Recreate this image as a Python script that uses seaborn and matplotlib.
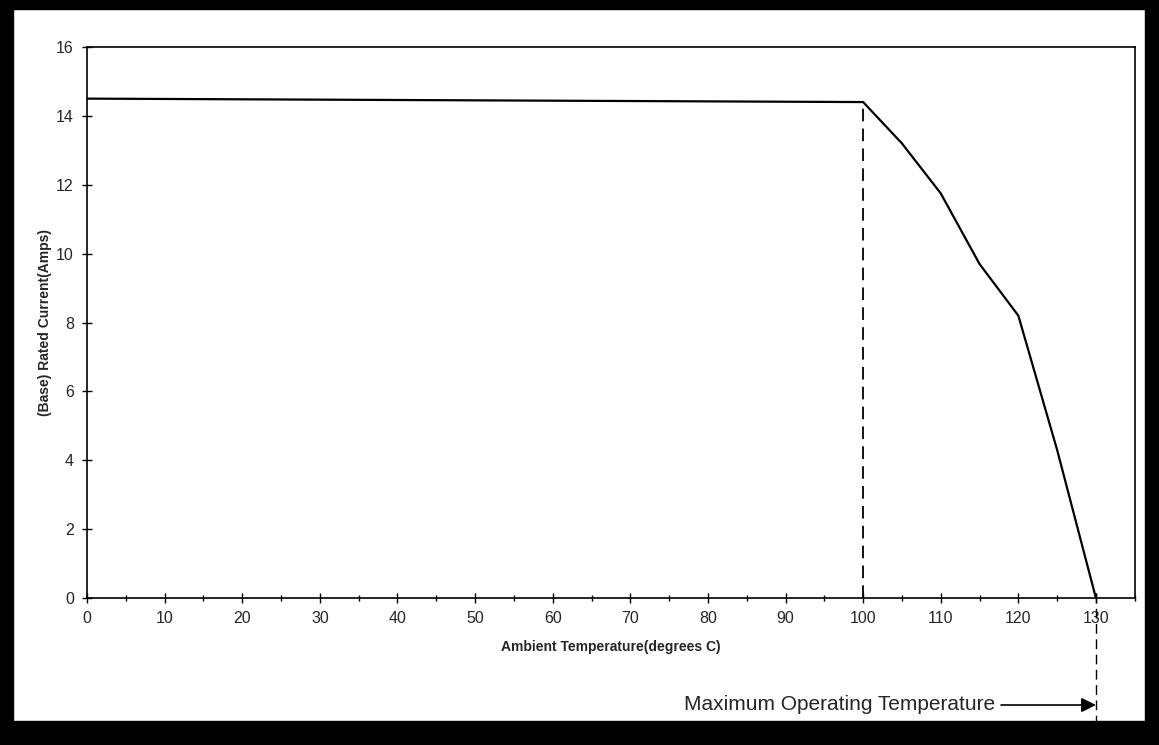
import matplotlib
matplotlib.use('Agg')
import matplotlib.pyplot as plt
from matplotlib.patches import Rectangle
import numpy as np
import pandas as pd
import seaborn as sns

# derating curve
temperature = [0, 100, 105, 110, 115, 120, 125, 130]
current = [14.5, 14.4, 13.2, 11.75, 9.7, 8.2, 4.3, 0.0]

x_ticks = list(range(0, 131, 10))
y_ticks = list(range(0, 17, 2))
max_temp = 130
knee_temp = 100
knee_current = 14.4

sns.set_theme(style='white')
plt.rcParams['font.family'] = ['Liberation Sans', 'DejaVu Sans']

df = pd.DataFrame({'temp': temperature, 'amps': current})

fig = plt.figure(figsize=(11.59, 7.45), dpi=100)
ax = fig.add_axes([0.0751, 0.197, 0.904, 0.740])

sns.lineplot(data=df, x='temp', y='amps', ax=ax, color='black', linewidth=1.6)

# dashed guides
ax.plot([knee_temp, knee_temp], [0, knee_current], color='black',
        linestyle=(0, (7, 4)), linewidth=1.3)
ax.plot([max_temp, max_temp], [0.15, -3.55], color='black',
        linestyle=(0, (7, 4)), linewidth=1.0, clip_on=False)

ax.set_xlim(0, 135)
ax.set_ylim(0, 16)
ax.set_xticks(x_ticks)
ax.set_xticks(list(range(5, 136, 10)), minor=True)
ax.set_yticks(y_ticks)
ax.tick_params(axis='both', which='both', direction='inout', color='black',
               bottom=True, left=True, labelsize=11.5, width=1)
ax.tick_params(axis='both', which='major', length=7, pad=6)
ax.tick_params(axis='x', which='minor', length=5)

for s in ax.spines.values():
    s.set_color('black')
    s.set_linewidth(1.2)

ax.set_xlabel('Ambient Temperature(degrees C)', fontsize=10, fontweight='bold',
              labelpad=10)
ax.set_ylabel('(Base) Rated Current(Amps)', fontsize=10, fontweight='bold',
              labelpad=3)

ax.annotate('Maximum Operating Temperature', xy=(max_temp, 40),
            xycoords=('data', 'figure pixels'),
            xytext=(995, 40), textcoords='figure pixels',
            ha='right', va='center', fontsize=15, annotation_clip=False,
            arrowprops=dict(arrowstyle='-|>', color='black', lw=1.2,
                            mutation_scale=22, shrinkA=2, shrinkB=0))

# scanner borders
fig.patches.append(Rectangle((0, 0), 0.011, 1, transform=fig.transFigure,
                             color='black', zorder=0))
fig.patches.append(Rectangle((0, 0.988), 1, 0.012, transform=fig.transFigure,
                             color='black', zorder=0))
fig.patches.append(Rectangle((0, 0), 1, 0.032, transform=fig.transFigure,
                             color='black', zorder=0))
fig.patches.append(Rectangle((0.988, 0), 0.012, 1, transform=fig.transFigure,
                             color='black', zorder=0))

fig.savefig('out.png', dpi=100)
